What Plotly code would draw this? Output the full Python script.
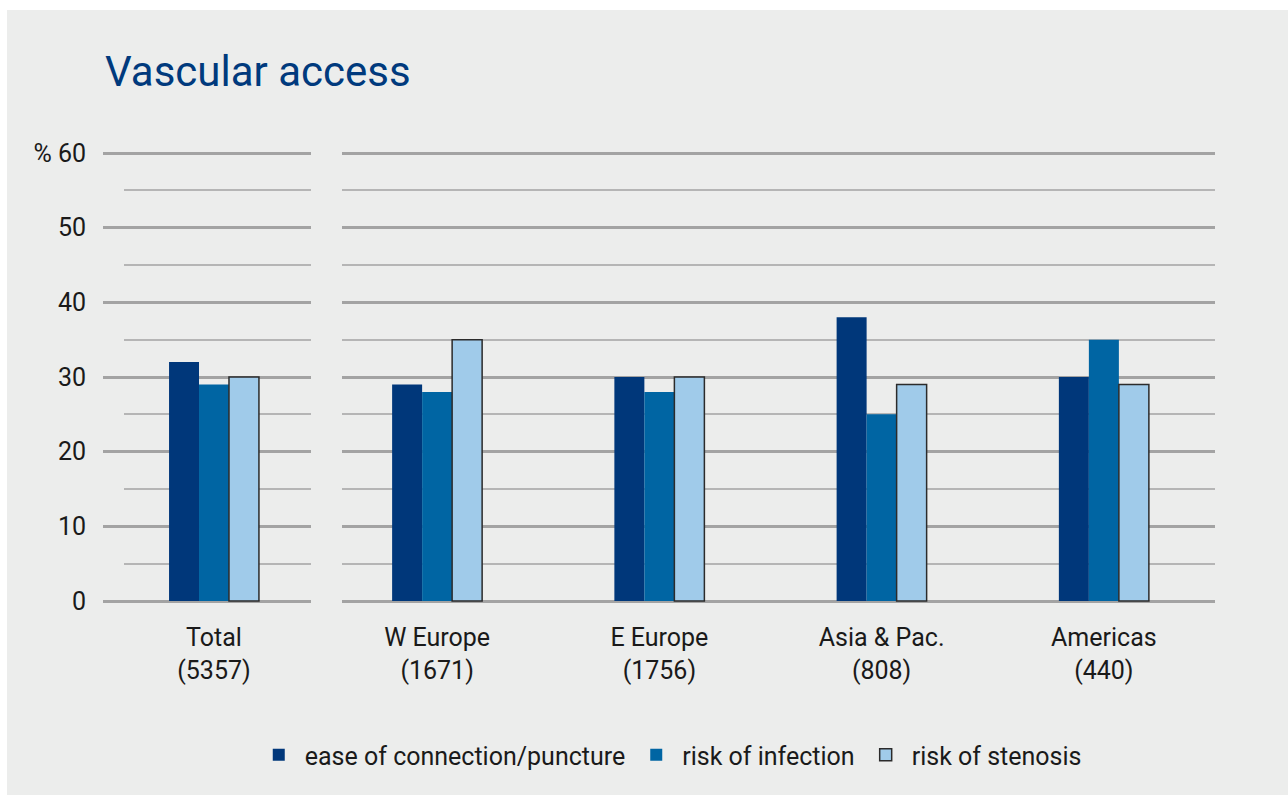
import plotly.graph_objects as go

# ---- data ----
total_cat = ["Total<br>(5357)"]
region_cats = ["W Europe<br>(1671)", "E Europe<br>(1756)", "Asia & Pac.<br>(808)", "Americas<br>(440)"]
series_names = ["ease of connection/puncture", "risk of infection", "risk of stenosis"]
total_vals = [32, 29, 30]
ease_vals = [29, 30, 38, 30]
infection_vals = [28, 28, 25, 35]
stenosis_vals = [35, 30, 29, 29]
y_tickvals = [0, 10, 20, 30, 40, 50, 60]
y_ticktext = ["0", "10", "20", "30", "40", "50", "% 60"]
minor_vals = [5, 15, 25, 35, 45, 55]

# ---- style ----
W, H = 1288, 795
colors = ["#00377a", "#0065a3", "#a0cbea"]
outline = ["rgba(0,0,0,0)", "rgba(0,0,0,0)", "#2b2b2b"]
outline_w = [0, 0, 1.5]
bg = "#ecedec"
major_grid = "#a3a3a3"
minor_grid = "#b5b5b5"
txt = "#1a1a1a"
FONT = "Roboto"

def px_x(p):
    return p / W

def px_y(p):
    return 1 - p / H

pad = 0.3
ppu = (601 - 153) / 60.0
ydom = [px_y(601 + pad * ppu), px_y(153 - pad * ppu)]
yrange = [-pad, 60 + pad]

fig = go.Figure()

# placeholder trace so the indented minor-grid subplot of the Total panel is drawn
fig.add_trace(go.Scatter(x=[None], y=[None], xaxis="x", yaxis="y", showlegend=False,
                         hoverinfo="skip", mode="markers"))

region_series = [ease_vals, infection_vals, stenosis_vals]
for i, name in enumerate(series_names):
    fig.add_trace(go.Bar(
        x=total_cat, y=[total_vals[i]], name=name,
        marker=dict(color=colors[i], line=dict(color=outline[i], width=outline_w[i])),
        xaxis="x2", yaxis="y2", showlegend=True, legendgroup=name,
    ))
    fig.add_trace(go.Bar(
        x=region_cats, y=region_series[i], name=name,
        marker=dict(color=colors[i], line=dict(color=outline[i], width=outline_w[i])),
        xaxis="x3", yaxis="y3", showlegend=False, legendgroup=name,
    ))

tick_font = dict(family=FONT, size=25, color=txt)
cat_font = dict(family=FONT, size=25, color=txt)

fig.update_layout(
    width=W, height=H,
    margin=dict(l=0, r=0, t=0, b=0, autoexpand=False),
    paper_bgcolor="white",
    plot_bgcolor="rgba(0,0,0,0)",
    barmode="group", bargap=0.595, bargroupgap=0,
    font=dict(family=FONT, color=txt),
    showlegend=True,
    legend=dict(
        orientation="h", x=0.52, xanchor="center", y=px_y(755), yanchor="middle",
        font=dict(family=FONT, size=25, color=txt), bgcolor="rgba(0,0,0,0)",
        traceorder="normal", itemwidth=42,
    ),
    xaxis=dict(domain=[px_x(124), px_x(311)], visible=False, range=[0, 1], anchor="y"),
    yaxis=dict(domain=ydom, range=yrange, anchor="x", tickvals=minor_vals,
               showticklabels=False, showgrid=True, gridcolor=minor_grid, gridwidth=1.5,
               zeroline=False, showline=False, ticks=""),
    xaxis2=dict(domain=[px_x(103), px_x(311)], anchor="y2", range=[-0.5, 0.437],
                showgrid=False, zeroline=False, showline=False, ticks="",
                tickfont=cat_font, ticklabelstandoff=17),
    yaxis2=dict(domain=ydom, range=yrange, anchor="x2", tickvals=y_tickvals, ticktext=y_ticktext,
                showgrid=True, gridcolor=major_grid, gridwidth=2.5, zeroline=False,
                showline=False, ticks="", tickfont=tick_font, ticklabelstandoff=16),
    xaxis3=dict(domain=[px_x(342), px_x(1215)], anchor="y3", range=[-0.428, 3.5],
                showgrid=False, zeroline=False, showline=False, ticks="",
                tickfont=cat_font, ticklabelstandoff=17),
    yaxis3=dict(domain=ydom, range=yrange, anchor="x3", tickvals=y_tickvals,
                showticklabels=False, showgrid=True, gridcolor=major_grid, gridwidth=2.5,
                zeroline=False, showline=False, ticks="",
                minor=dict(tickvals=minor_vals, showgrid=True, gridcolor=minor_grid, gridwidth=1.5)),
    shapes=[dict(type="rect", xref="paper", yref="paper", x0=px_x(7), x1=1, y0=0, y1=px_y(10),
                 fillcolor=bg, line=dict(width=0), layer="below")],
    annotations=[dict(text="Vascular access", xref="paper", yref="paper",
                      x=px_x(103), xanchor="left", y=px_y(72), yanchor="middle",
                      showarrow=False, font=dict(family=FONT, size=42, color="#003a7d"))],
)

fig.write_html("out.html", config={"displayModeBar": False},
               post_script="document.body.style.margin='0';document.body.style.padding='0';")
